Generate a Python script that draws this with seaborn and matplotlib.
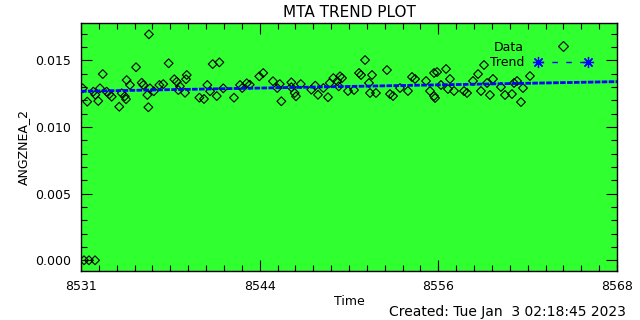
import matplotlib
matplotlib.use("Agg")
import matplotlib.pyplot as plt
import seaborn as sns
import pandas as pd
import numpy as np
from matplotlib.lines import Line2D
from matplotlib.legend_handler import HandlerLine2D
from matplotlib.ticker import FixedLocator, MultipleLocator, AutoMinorLocator

# ---- data ----
time_vals = [
    8531.51, 8531.85, 8532.27,
    8531.42, 8531.73, 8532.15, 8532.49, 8532.80, 8532.61, 8533.07, 8533.25, 8533.42,
    8533.94, 8534.11, 8534.45, 8534.41, 8534.68, 8535.10, 8535.49, 8535.60, 8535.88,
    8535.95, 8535.99, 8536.06, 8536.71, 8536.98, 8537.35, 8537.74, 8537.91, 8538.02,
    8538.60, 8538.55, 8538.48, 8539.47, 8539.79, 8540.02, 8540.39, 8540.85, 8540.67,
    8541.12, 8541.86, 8542.28, 8542.74, 8540.21, 8542.43, 8538.13, 8532.29, 8534.32,
    8536.32,
    8543.61, 8543.88, 8542.95, 8544.55, 8545.02, 8544.85, 8545.13, 8545.82, 8545.82,
    8546.05, 8546.14, 8546.47, 8547.20, 8547.47, 8547.66, 8548.03, 8548.35, 8548.47,
    8548.72, 8548.99, 8549.18, 8549.09,
    8549.32, 8549.73, 8550.15, 8550.49, 8550.63, 8550.91, 8551.18, 8551.25, 8551.39,
    8551.66, 8552.42, 8552.63, 8552.84, 8553.32, 8553.87, 8554.15, 8554.36, 8555.12,
    8555.39, 8555.67, 8555.67,
    8555.88, 8556.50, 8555.74, 8556.77, 8556.15, 8556.63, 8557.05, 8557.74, 8557.95,
    8558.36, 8558.71, 8559.12, 8558.91, 8559.33, 8559.53, 8559.74, 8560.29, 8560.57,
    8561.05, 8561.19, 8561.40, 8561.67, 8561.81, 8562.29,
]
angznea_2 = [
    0.0, 0.0, 0.0,
    0.01290, 0.01190, 0.01265, 0.01195, 0.01397, 0.01290, 0.01265, 0.01245, 0.01227,
    0.01152, 0.01253, 0.01352, 0.01208, 0.01315, 0.01448, 0.01332, 0.01315, 0.01240,
    0.01148, 0.01695, 0.01290, 0.01315, 0.01322, 0.01478, 0.01358, 0.01340, 0.01277,
    0.01390, 0.01358, 0.01257, 0.01220, 0.01210, 0.01315, 0.01472, 0.01485, 0.01232,
    0.01290, 0.01220, 0.01315, 0.01328, 0.01268, 0.01292, 0.01305, 0.01242, 0.01230,
    0.01268,
    0.01380, 0.01405, 0.01317, 0.01343, 0.01322, 0.01292, 0.01193, 0.01335, 0.01298,
    0.01255, 0.01230, 0.01322, 0.01280, 0.01310, 0.01242, 0.01292, 0.01223, 0.01330,
    0.01367, 0.01343, 0.01380, 0.01305,
    0.01367, 0.01270, 0.01277, 0.01405, 0.01390, 0.01502, 0.01330, 0.01255, 0.01390,
    0.01255, 0.01427, 0.01247, 0.01232, 0.01292, 0.01270, 0.01375, 0.01360, 0.01345,
    0.01270, 0.01232, 0.01405,
    0.01412, 0.01435, 0.01217, 0.01360, 0.01315, 0.01285, 0.01270, 0.01270, 0.01255,
    0.01345, 0.01397, 0.01465, 0.01270, 0.01330, 0.01240, 0.01360, 0.01300, 0.01240,
    0.01247, 0.01330, 0.01345, 0.01187, 0.01292, 0.01382,
]
trend_time = [8531.3, 8568.3]
trend_vals = [0.01268, 0.01340]

x_tick_vals = [8531.3, 8543.633, 8555.967, 8568.3]
x_tick_labels = ["8531", "8544", "8556", "8568"]
y_tick_vals = [0.0, 0.005, 0.010, 0.015]
y_tick_labels = ["0.000", "0.005", "0.010", "0.015"]

title = "MTA TREND PLOT"
xlabel = "Time"
ylabel = "ANGZNEA_2"
created = "Created: Tue Jan  3 02:18:45 2023"

df = pd.DataFrame({"Time": time_vals, "ANGZNEA_2": angznea_2})

plt.rcParams['font.family'] = ['DejaVu Sans']
fig = plt.figure(figsize=(6.4, 3.2), dpi=100, facecolor="white")
ax = fig.add_axes([81/640, 1 - 270.7/320, (617-81)/640, (270.7-23)/320])
ax.set_facecolor("#30ff30")

sns.scatterplot(data=df, x="Time", y="ANGZNEA_2", marker="D", s=20,
                facecolor="none", edgecolor="black", linewidth=0.8, ax=ax,
                zorder=3, legend=False)
ax.plot(trend_time, trend_vals, color="blue", lw=2.0, dashes=(2.0, 0.5), zorder=4,
        solid_capstyle="butt", dash_capstyle="butt")

ax.set_xlim(trend_time[0], trend_time[1])
ax.set_ylim(-0.00078, 0.0178)

ax.xaxis.set_major_locator(FixedLocator(x_tick_vals))
ax.set_xticklabels(x_tick_labels)
ax.xaxis.set_minor_locator(AutoMinorLocator(10))
ax.yaxis.set_major_locator(FixedLocator(y_tick_vals))
ax.set_yticklabels(y_tick_labels)
ax.yaxis.set_minor_locator(MultipleLocator(0.001))

ax.tick_params(which="both", direction="in", top=True, right=True, color="black",
               labelsize=9, width=0.8)
ax.tick_params(which="major", length=8, pad=7)
ax.tick_params(which="minor", length=4)
for s in ax.spines.values():
    s.set_linewidth(1.0)
    s.set_color("black")

ax.set_title(title, fontsize=11, pad=4)
ax.set_xlabel(xlabel, fontsize=9, labelpad=1)
ax.set_ylabel(ylabel, fontsize=9, labelpad=4)
fig.text(626/640, 1 - 312/320, created, ha="right", va="center", fontsize=10)

data_h = Line2D([], [], marker="D", linestyle="none", markerfacecolor="none",
                markeredgecolor="black", markersize=5, markeredgewidth=0.8)
trend_h = Line2D([], [], color="blue", marker=(8, 2, 0), markersize=8,
                 linestyle=(0, (4, 6)), lw=1.0, markeredgewidth=0.9)
leg = ax.legend([data_h, trend_h], ["Data", "Trend"], loc="center",
                bbox_to_anchor=((540.5-81)/536, (270.7-55)/247.7),
                frameon=False, markerfirst=False, numpoints=2, fontsize=9,
                handlelength=4.6, handletextpad=0.8, labelspacing=0.2,
                borderpad=0, borderaxespad=0,
                handler_map={data_h: HandlerLine2D(numpoints=1)})

fig.savefig("out.png", dpi=100, facecolor="white")
